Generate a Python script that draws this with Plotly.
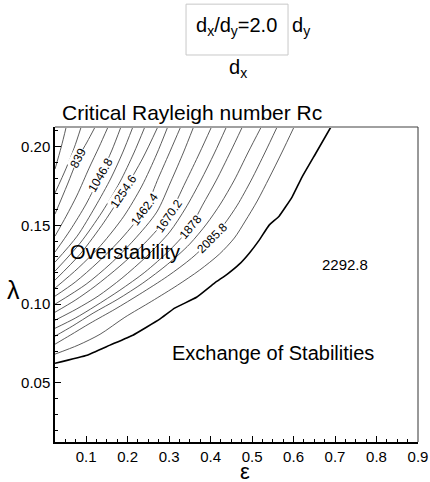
import plotly.graph_objects as go

# ---- contour lines of the critical Rayleigh number (epsilon, lambda) ----
eps_01 = [0.052, 0.040, 0.025]
lam_01 = [0.2125, 0.1998, 0.1858]
eps_02 = [0.088, 0.0712, 0.052, 0.025]
lam_02 = [0.2125, 0.1992, 0.1864, 0.1706]
eps_03 = [0.1216, 0.1024, 0.0808, 0.0544, 0.025]
lam_03 = [0.2125, 0.2030, 0.1928, 0.1757, 0.1572]
eps_04 = [0.1528, 0.1312, 0.1072, 0.0784, 0.052, 0.025]
lam_04 = [0.2125, 0.1998, 0.1864, 0.1693, 0.1559, 0.1432]
eps_05 = [0.1839, 0.1624, 0.1348, 0.1000, 0.0616, 0.025]
lam_05 = [0.2125, 0.1979, 0.1820, 0.1636, 0.1470, 0.1331]
eps_06 = [0.2127, 0.1887, 0.1600, 0.1216, 0.0784, 0.025]
lam_06 = [0.2125, 0.1966, 0.1801, 0.1617, 0.1432, 0.1267]
eps_07 = [0.2415, 0.2151, 0.1815, 0.1384, 0.0856, 0.025]
lam_07 = [0.2125, 0.1960, 0.1776, 0.1585, 0.1388, 0.1210]
eps_08 = [0.2727, 0.2367, 0.1911, 0.1432, 0.0856, 0.025]
lam_08 = [0.2125, 0.1928, 0.1718, 0.1521, 0.1318, 0.1153]
eps_09 = [0.2966, 0.2703, 0.2343, 0.1911, 0.1360, 0.0808, 0.025]
lam_09 = [0.2125, 0.1954, 0.1750, 0.1559, 0.1375, 0.1229, 0.1102]
eps_10 = [0.3278, 0.3038, 0.2751, 0.2415, 0.1863, 0.1288, 0.0736, 0.025]
lam_10 = [0.2125, 0.1979, 0.1807, 0.1604, 0.1420, 0.1267, 0.1140, 0.1051]
eps_11 = [0.3590, 0.3350, 0.3038, 0.2703, 0.2151, 0.1576, 0.1000, 0.025]
lam_11 = [0.2125, 0.1966, 0.1776, 0.1585, 0.1407, 0.1254, 0.1127, 0.1000]
eps_12 = [0.4022, 0.3734, 0.3398, 0.2990, 0.2415, 0.1815, 0.1216, 0.0736, 0.025]
lam_12 = [0.2125, 0.1960, 0.1776, 0.1563, 0.1388, 0.1242, 0.1114, 0.1025, 0.0949]
eps_13 = [0.4381, 0.4094, 0.3758, 0.3398, 0.3014, 0.2463, 0.1863, 0.1288, 0.0760, 0.025]
lam_13 = [0.2125, 0.1960, 0.1782, 0.1610, 0.1458, 0.1305, 0.1165, 0.1051, 0.0968, 0.0898]
eps_14 = [0.4765, 0.4477, 0.4141, 0.3806, 0.3518, 0.3014, 0.2415, 0.1815, 0.1216, 0.0736, 0.025]
lam_14 = [0.2125, 0.1966, 0.1788, 0.1629, 0.1491, 0.1343, 0.1203, 0.1089, 0.0987, 0.0911, 0.0847]
eps_15 = [0.5221, 0.4909, 0.4573, 0.4237, 0.3902, 0.3494, 0.2966, 0.2367, 0.1767, 0.1168, 0.0664, 0.025]
lam_15 = [0.2125, 0.1966, 0.1788, 0.1636, 0.1509, 0.1381, 0.1254, 0.1134, 0.1032, 0.0943, 0.0860, 0.0797]
eps_16 = [0.5604, 0.5317, 0.4981, 0.4645, 0.4333, 0.4046, 0.3542, 0.2966, 0.2295, 0.1695, 0.1096, 0.0616, 0.025]
lam_16 = [0.2125, 0.1966, 0.1788, 0.1629, 0.1509, 0.1418, 0.1292, 0.1178, 0.1064, 0.0968, 0.0879, 0.0803, 0.0746]
eps_17 = [0.6012, 0.5724, 0.5412, 0.5125, 0.4837, 0.4573, 0.4213, 0.3734, 0.3206, 0.2583, 0.1935, 0.1336, 0.0808, 0.025]
lam_17 = [0.2125, 0.1966, 0.1801, 0.1655, 0.1528, 0.1420, 0.1318, 0.1216, 0.1121, 0.1019, 0.0917, 0.0809, 0.0740, 0.0683]

# boundary between overstability and exchange of stabilities (bold line)
eps_bound = [0.025, 0.1024, 0.1576, 0.2127, 0.2775, 0.3134, 0.3662, 0.4094, 0.4405,
             0.4693, 0.4933, 0.5173, 0.5412, 0.5652, 0.5964, 0.6204, 0.6540, 0.6900]
lam_bound = [0.0625, 0.0676, 0.0740, 0.0803, 0.0905, 0.0975, 0.1044, 0.1134, 0.1191,
             0.1254, 0.1324, 0.1407, 0.1502, 0.1559, 0.1680, 0.1807, 0.1960, 0.2125]

# contour labels
label_levels = ["839", "1046.8", "1254.6", "1462.4", "1670.2", "1878", "2085.8"]
label_eps = [0.0808, 0.1348, 0.1911, 0.2415, 0.2990, 0.3518, 0.4046]
label_lam = [0.1928, 0.1820, 0.1718, 0.1604, 0.1563, 0.1491, 0.1418]
label_angle = [-63, -60, -56, -54, -55, -50, -45]

stationary_value = "2292.8"
x_ticks = [0.1, 0.2, 0.3, 0.4, 0.5, 0.6, 0.7, 0.8, 0.9]
y_ticks = [0.05, 0.10, 0.15, 0.20]

FONT = "Liberation Sans, Arial, Helvetica, sans-serif"

contours = [
    (eps_01, lam_01), (eps_02, lam_02), (eps_03, lam_03), (eps_04, lam_04),
    (eps_05, lam_05), (eps_06, lam_06), (eps_07, lam_07), (eps_08, lam_08),
    (eps_09, lam_09), (eps_10, lam_10), (eps_11, lam_11), (eps_12, lam_12),
    (eps_13, lam_13), (eps_14, lam_14), (eps_15, lam_15), (eps_16, lam_16),
    (eps_17, lam_17),
]

fig = go.Figure()
for ex, ly in contours:
    fig.add_trace(go.Scatter(x=ex, y=ly, mode="lines",
                             line=dict(color="#4a4a4a", width=0.9, shape="spline", smoothing=0.8),
                             hoverinfo="skip", showlegend=False))
fig.add_trace(go.Scatter(x=eps_bound, y=lam_bound, mode="lines",
                         line=dict(color="black", width=1.6, shape="spline", smoothing=0.3),
                         hoverinfo="skip", showlegend=False))


def note(x, y, text, size, ref="paper", **kw):
    d = dict(x=x, y=y, xref=ref if ref == "paper" else "x", yref=ref if ref == "paper" else "y",
             text=text, showarrow=False, xanchor="center", yanchor="middle",
             font=dict(family=FONT, size=size, color="black"))
    d.update(kw)
    return d


ann = []
for t, ex, ly, ang in zip(label_levels, label_eps, label_lam, label_angle):
    ann.append(note(ex, ly, t, 12, ref="data", textangle=ang, bgcolor="white", borderpad=0))

ann += [
    note(0.7235, 0.1254, stationary_value, 15, ref="data"),
    note(0.1935, 0.1331, "Overstability", 20, ref="data"),
    note(0.5508, 0.0688, "Exchange of Stabilities", 20, ref="data"),
    note(0.0138, 1.0476, "Critical Rayleigh number Rc", 21, xanchor="left"),
    note(-0.1157, 0.4825, "λ", 25),
    note(0.523, -0.095, "ε", 22),
    note(0.501, 1.3175, "d<sub>x</sub>/d<sub>y</sub>=2.0", 20),
    note(0.678, 1.3175, "d<sub>y</sub>", 20),
    note(0.504, 1.187, "d<sub>x</sub>", 20),
]

shapes = [
    dict(type="rect", xref="paper", yref="paper", x0=0.361, x1=0.642, y0=1.2286, y1=1.390,
         line=dict(color="#c8c8c8", width=1)),
    dict(type="line", xref="paper", yref="paper", x0=0, x1=1, y0=1, y1=1,
         line=dict(color="#a0a0a0", width=2)),
    dict(type="line", xref="paper", yref="paper", x0=1, x1=1, y0=0, y1=1,
         line=dict(color="#333333", width=1)),
]

fig.update_layout(
    width=430, height=482,
    margin=dict(l=55, r=12, t=127, b=40, autoexpand=False),
    paper_bgcolor="white", plot_bgcolor="white",
    annotations=ann, shapes=shapes,
    font=dict(family=FONT, color="black"),
)
fig.update_xaxes(range=[0.025, 0.9], tickvals=x_ticks, tickformat=".1f", automargin=False,
                 ticks="inside", ticklen=6, tickwidth=1, tickcolor="black",
                 minor=dict(dtick=0.025, ticks="inside", ticklen=3, tickcolor="black"),
                 showgrid=False, zeroline=False, showline=True, linecolor="black", linewidth=1.5,
                 tickfont=dict(family=FONT, size=15, color="black"))
fig.update_yaxes(range=[0.0125, 0.2125], tickvals=y_ticks, tickformat=".2f", automargin=False,
                 ticks="inside", ticklen=6, tickwidth=1, tickcolor="black",
                 minor=dict(dtick=0.01, ticks="inside", ticklen=3, tickcolor="black"),
                 showgrid=False, zeroline=False, showline=True, linecolor="black", linewidth=1.5,
                 tickfont=dict(family=FONT, size=15, color="black"))

fig.write_html(
    "out.html",
    config={"displayModeBar": False},
    post_script="document.body.style.margin='0';document.body.style.padding='0';"
                "document.body.style.overflow='hidden';",
)
